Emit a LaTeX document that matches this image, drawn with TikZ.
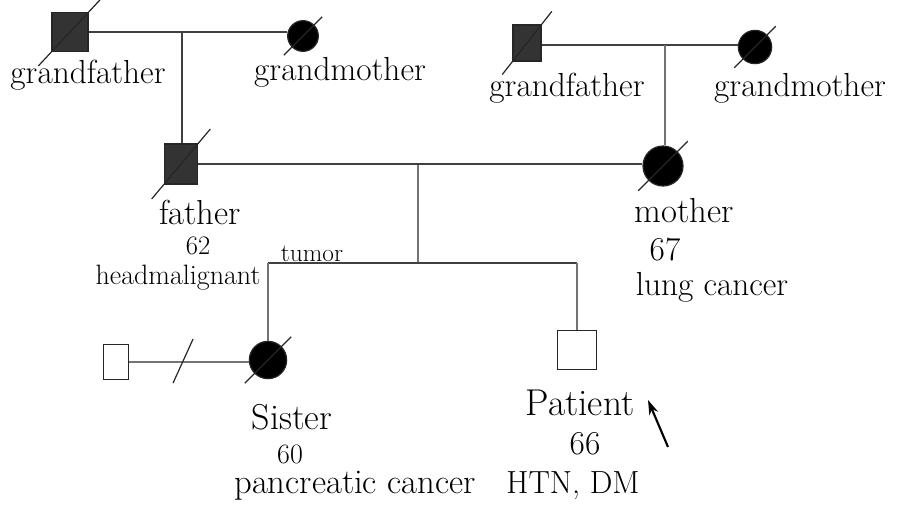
\documentclass[tikz,border=0pt]{standalone}
\usetikzlibrary{calc}
\usetikzlibrary{arrows.meta}

\tikzset{
  male/.style={draw=black!85, line width=0.9, rectangle, inner sep=0pt, minimum width=#1, minimum height=#1},
  female/.style={draw=black!85, line width=0.9, circle, inner sep=0pt, minimum size=#1},
  affected/.style={fill=black!80},
  link/.style={draw=black!75, line width=1},
  sibline/.style={draw=black!55, line width=0.9},
  slash/.style={draw=black!85, line width=0.9},
  lbl/.style={inner sep=0.75pt, font=\fontsize{25}{28}\selectfont},
  biglbl/.style={inner sep=0.75pt, font=\fontsize{28}{30}\selectfont},
  smalllbl/.style={inner sep=0.75pt, font=\fontsize{21}{24}\selectfont}
}

\begin{document}
\begin{tikzpicture}[x=0.75pt,y=0.75pt,yscale=-1,xscale=1]
\path[use as bounding box] (0,0) rectangle (898,504);

%Shape: Square [id:gfL] 
\node (gfL) at (70,32) [male=27pt, minimum height=29pt, affected] {};
%Shape: Circle [id:gmL] 
\node (gmL) at (303,36) [female=23pt, fill=black] {};
%Shape: Square [id:gfR] 
\node (gfR) at (527,43) [male=21pt, minimum height=27pt, affected] {};
%Shape: Circle [id:gmR] 
\node (gmR) at (755,47) [female=25pt, fill=black] {};
%Shape: Square [id:fa] 
\node (fa) at (181,164) [male=25pt, minimum height=30pt, affected] {};
%Shape: Circle [id:mo] 
\node (mo) at (663,166) [female=30pt, fill=black] {};
%Shape: Circle [id:si] 
\node (si) at (268,360) [female=23pt, minimum height=28pt, fill=black] {};
%Shape: Square [id:sp] 
\node (sp) at (116,362) [male=19pt, minimum height=26pt] {};
%Shape: Square [id:pt] 
\node (pt) at (577,350) [male=29pt] {};

%Straight Lines [id:couples] 
\draw [link] (gfL.east) -- (gfL.east -| gmL.west) ;
\draw [link] (gfR.east |- 0,45) -- (gmR.west |- 0,45) ;
\draw [link] (fa.east) -- (fa.east -| mo.west) ;
\draw [sibline] (sp.east) -- (sp.east -| si.west) ;

%Straight Lines [id:descent] 
\coordinate (cL) at (182,32) ;
\coordinate (cR) at (665,45) ;
\coordinate (cP) at (418,165) ;
\coordinate (sib) at (418,263) ;
\draw [link] (cL) -- (cL |- fa.north) ;
\draw [sibline] (cR) -- (cR |- mo.north) ;
\draw [sibline] (cP) -- (sib) ;
\draw [link] (si.north |- sib) -- (pt.north |- sib) ;
\draw [sibline] (si.north |- sib) -- (si.north) ;
\draw [sibline] (pt.north |- sib) -- (pt.north) ;

%Straight Lines [id:deceased] 
\foreach \n in {gfL,gmL,gfR,gmR,fa,mo,si}
  \draw [slash] ($(\n.south west)!-0.35!(\n.north east)$) -- ($(\n.south west)!1.35!(\n.north east)$) ;

%Straight Lines [id:separated] 
\coordinate (brk) at ($(sp.east)!0.45!(si.west)$) ;
\draw [slash] (brk) ++(-10,22) -- ++(20,-44) ;

%Straight Lines [id:proband] 
\coordinate (arT) at (668,447) ;
\coordinate (arH) at (648,400) ;
\draw [line width=1.6, -{Stealth[length=11pt,width=7pt]}] (arT) -- (arH) ;

% Text Node
\node (tgfL) at (88,75) [lbl] {grandfather};
% Text Node
\node (tgmL) at (340,72) [lbl] {grandmother};
% Text Node
\node (tgfR) at (567,88) [lbl] {grandfather};
% Text Node
\node (tgmR) at (800,88) [lbl] {grandmother};
% Text Node
\node (tfa) at (200,212) [lbl, font=\fontsize{26}{28}\selectfont] {father};
% Text Node
\node (tfa2) at (198,246) [smalllbl, font=\fontsize{20}{22}\selectfont] {62};
% Text Node
\node (tfa3) at (178,278) [smalllbl] {headmalignant};
% Text Node
\node (ttum) at (312,254) [smalllbl, font=\fontsize{19}{22}\selectfont] {tumor};
% Text Node
\node (tmo) at (684,211) [lbl, font=\fontsize{26}{28}\selectfont] {mother};
% Text Node
\node (tmo2) at (665,249) [lbl] {67};
% Text Node
\node (tmo3) at (712,287) [lbl] {lung cancer};
% Text Node
\node (tsi) at (292,417) [lbl, font=\fontsize{27}{30}\selectfont] {Sister};
% Text Node
\node (tsi2) at (290,454) [smalllbl] {60};
% Text Node
\node (tsi3) at (355,486) [lbl, font=\fontsize{26}{28}\selectfont] {pancreatic cancer};
% Text Node
\node (tpt) at (580,403) [biglbl] {Patient};
% Text Node
\node (tpt2) at (585,444) [lbl] {66};
% Text Node
\node (tpt3) at (573,486) [lbl, font=\fontsize{24}{26}\selectfont] {HTN, DM};

\end{tikzpicture}
\end{document}
